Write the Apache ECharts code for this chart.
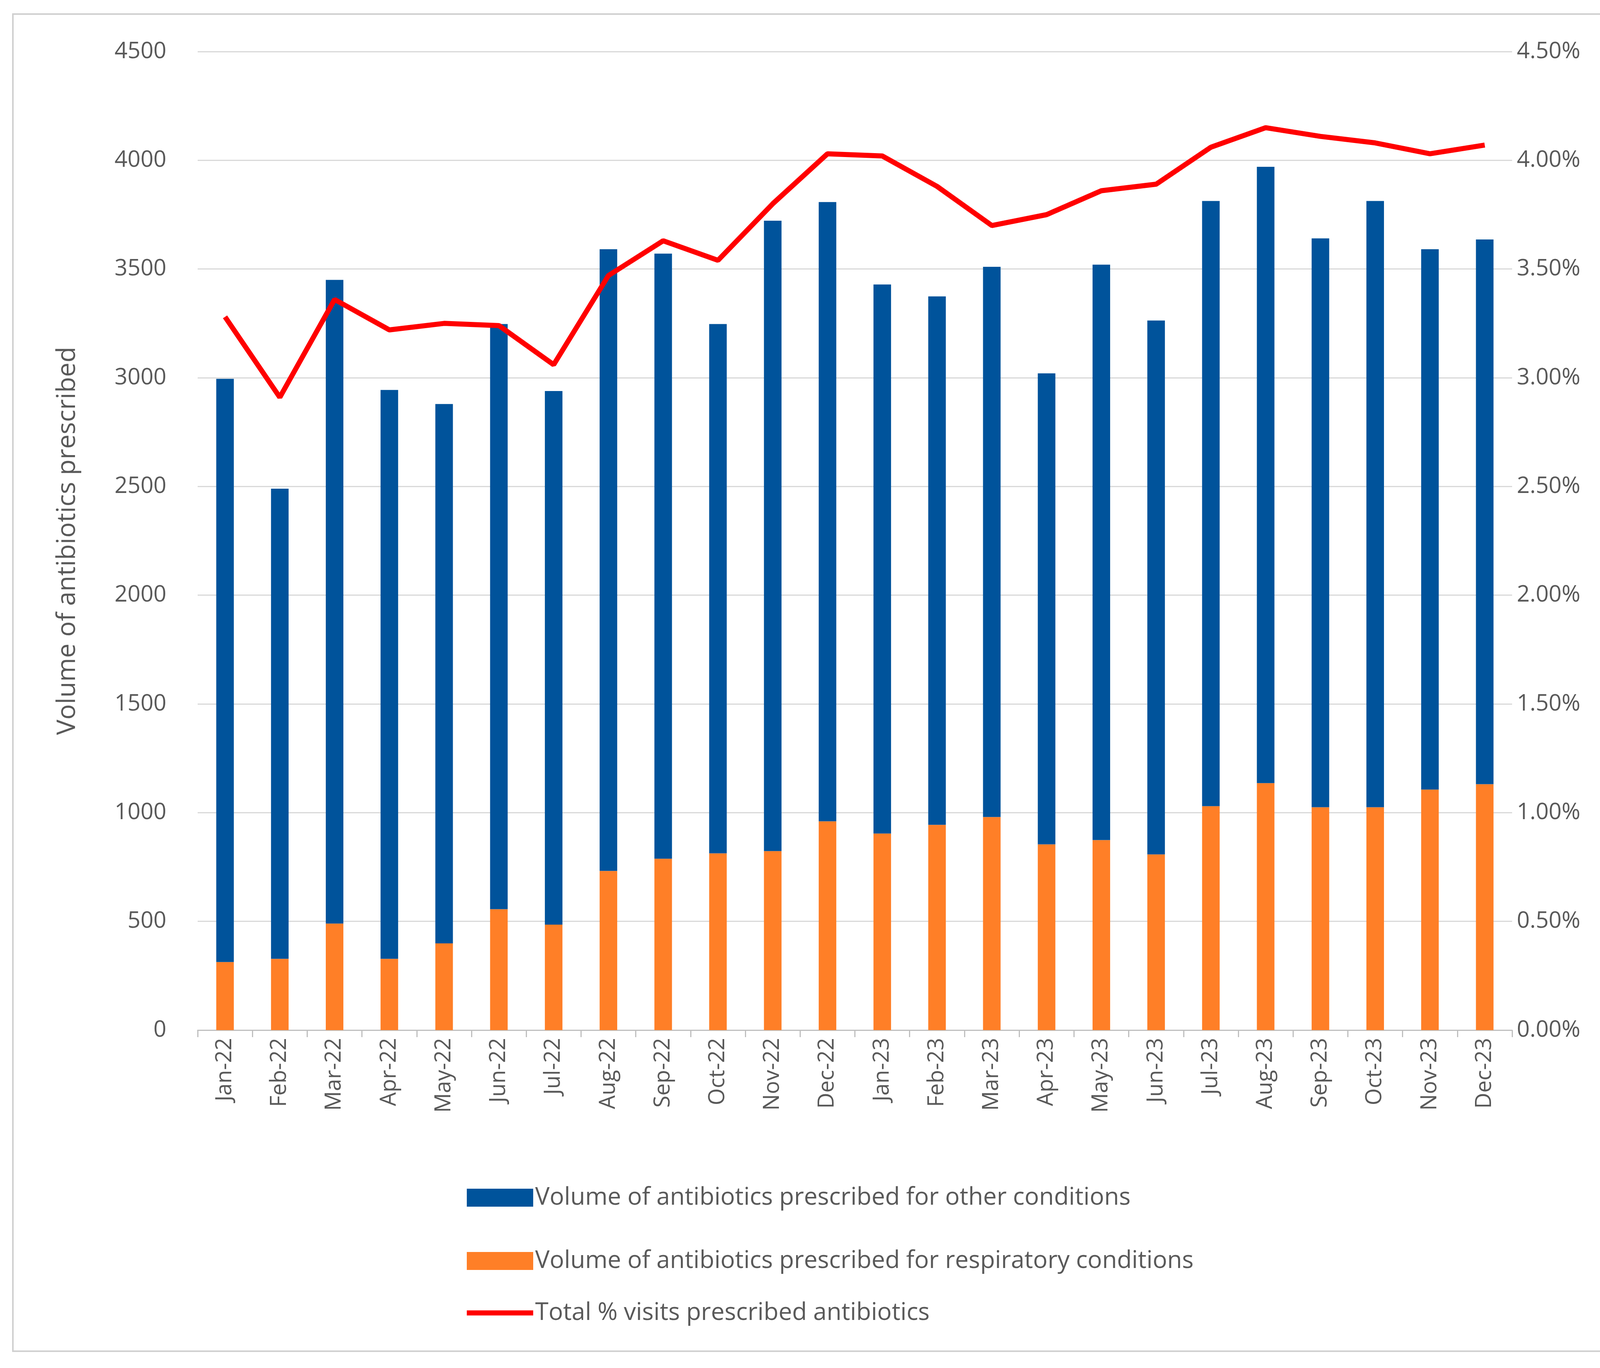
<!DOCTYPE html>
<html><head><meta charset="utf-8">
<script src="https://cdn.jsdelivr.net/npm/echarts@6/dist/echarts.min.js"></script>
<style>html,body{margin:0;padding:0;background:#fff}#c{width:4408px;height:3502px}
#b{position:absolute;left:31px;top:34px;width:4341px;height:3427px;border:4px solid #d0d0d0;box-sizing:border-box;pointer-events:none}</style>
</head><body><div id="c"></div><div id="b"></div>
<script>
const categories=["Jan-22","Feb-22","Mar-22","Apr-22","May-22","Jun-22","Jul-22","Aug-22","Sep-22","Oct-22","Nov-22","Dec-22","Jan-23","Feb-23","Mar-23","Apr-23","May-23","Jun-23","Jul-23","Aug-23","Sep-23","Oct-23","Nov-23","Dec-23"];
const totalVolume=[2995,2490,3450,2944,2879,3247,2939,3591,3571,3247,3722,3808,3429,3374,3510,3020,3520,3263,3813,3970,3641,3813,3591,3636];
const respiratory=[313,328,490,328,399,556,485,732,788,813,823,960,904,944,980,854,874,808,1030,1136,1025,1025,1106,1131];
const pctVisits=[3.28,2.91,3.36,3.22,3.25,3.24,3.06,3.47,3.63,3.54,3.80,4.03,4.02,3.88,3.70,3.75,3.86,3.89,4.06,4.15,4.11,4.08,4.03,4.07];
const other=totalVolume.map((t,i)=>t-respiratory[i]);
const txt='#595959', ff='"Open Sans", "Liberation Sans", sans-serif';
const chart=echarts.init(document.getElementById('c'));
const legText={fontSize:62,color:txt,fontFamily:ff};
chart.setOption({
 animation:false,
 textStyle:{fontFamily:ff},
 grid:{left:506,right:4408-3871,top:132,bottom:3502-2637},
 legend:[{orient:'vertical',left:1190,top:3030,itemGap:100,itemWidth:170,itemHeight:46,icon:'rect',
   textStyle:legText,
   data:['Volume of antibiotics prescribed for other conditions','Volume of antibiotics prescribed for respiratory conditions']},
  {left:1190,top:3325,itemWidth:170,itemHeight:13,icon:'rect',textStyle:legText,
   data:['Total % visits prescribed antibiotics']}],
 xAxis:{type:'category',data:categories,
   axisLine:{lineStyle:{color:'#bfbfbf',width:3}},
   axisTick:{show:true,length:18,lineStyle:{color:'#bfbfbf',width:3}},
   axisLabel:{rotate:90,fontSize:56,color:txt,margin:20}},
 yAxis:[{type:'value',position:'left',min:0,max:4500,interval:500,
   name:'Volume of antibiotics prescribed',nameLocation:'middle',nameGap:300,
   nameTextStyle:{fontSize:66,color:txt},
   axisLabel:{fontSize:58,color:txt,margin:80,formatter:v=>String(v)},
   splitLine:{lineStyle:{color:'#d9d9d9',width:3}}},
  {type:'value',position:'right',min:0,max:4.5,interval:0.5,
   name:'% visits prescribed antibiotics',nameLocation:'middle',nameGap:330,nameRotate:-90,
   nameTextStyle:{fontSize:66,color:txt},
   axisLine:{show:false},axisTick:{show:false},
   axisLabel:{fontSize:58,color:txt,margin:12,formatter:v=>v.toFixed(2)+'%'},
   splitLine:{show:false}}],
 series:[
  {name:'Volume of antibiotics prescribed for respiratory conditions',type:'bar',stack:'v',data:respiratory,barWidth:45,itemStyle:{color:'#ff7f27'}},
  {name:'Volume of antibiotics prescribed for other conditions',type:'bar',stack:'v',data:other,barWidth:45,itemStyle:{color:'#00539b'}},
  {name:'Total % visits prescribed antibiotics',type:'line',yAxisIndex:1,data:pctVisits,symbol:'none',lineStyle:{color:'#ff0000',width:13},itemStyle:{color:'#ff0000'}}
 ]
});
</script></body></html>
